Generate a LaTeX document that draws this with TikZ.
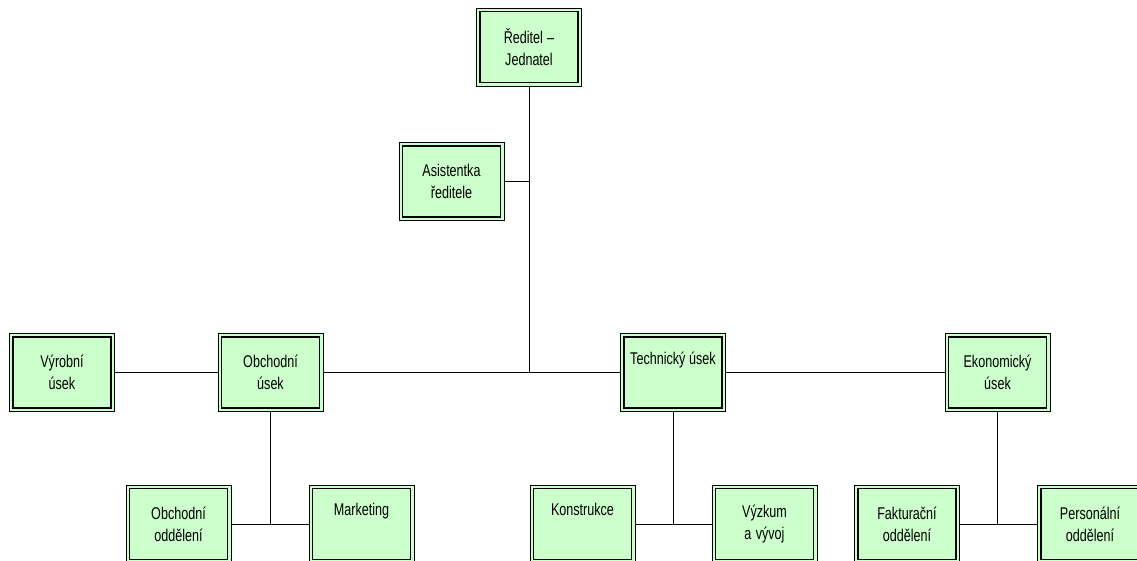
\documentclass[tikz,border=0pt]{standalone}
\usepackage{fontspec}
\setmainfont{Liberation Sans}[FakeStretch=0.74]
\definecolor{boxgreen}{HTML}{CCFFCC}
\begin{document}
\begin{tikzpicture}[x=1pt,y=-1pt,
  box/.style={draw, line width=0.7pt, fill=boxgreen, minimum width=105pt, minimum height=78pt,
    inner sep=0pt, text width=100pt, align=center, font=\fontsize{17}{22}\selectfont,
    execute at begin node={\spaceskip=3.5pt plus 1pt minus 1pt\relax},
    path picture={\draw[line width=1.6pt]
      ([xshift=3.5pt,yshift=-3.5pt]path picture bounding box.north west) rectangle
      ([xshift=-3.5pt,yshift=3.5pt]path picture bounding box.south east);}},
  conn/.style={draw, line width=1pt}]
\useasboundingbox (0,0) rectangle (1137,560);
\clip (0,0) rectangle (1137,560);
\fill[white] (0,0) rectangle (1137,560);
\node[box] (red) at (529,47) {Ředitel –\\Jednatel};
\node[box] (asist) at (451.5,181.5) {Asistentka\\ředitele};
\node[box] (vyrob) at (62,372.5) {Výrobní\\úsek};
\node[box] (obch) at (270.5,372.5) {Obchodní\\úsek};
\node[box] (tech) at (673,372.5) {Technický úsek\\\strut};
\node[box] (ekon) at (997.5,372.5) {Ekonomický\\úsek};
\node[box] (obodd) at (178.5,524) {Obchodní\\oddělení};
\node[box] (mark) at (361.5,524) {Marketing\\\strut};
\node[box] (konst) at (582.5,524) {Konstrukce\\\strut};
\node[box] (vyzk) at (764.5,524) {Výzkum\\a vývoj};
\node[box] (fakt) at (907,524) {Fakturační\\oddělení};
\node[box] (pers) at (1090,524) {Personální\\oddělení};
\coordinate (hub) at (529,372.5);
\path[conn] (red.south) -- (hub);
\path[conn] (asist.east) -- (asist.east -| hub);
\path[conn] (vyrob.east) -- (obch.west);
\path[conn] (obch.east) -- (tech.west);
\path[conn] (tech.east) -- (ekon.west);
\path[conn] (obch.south) -- (obch.south |- obodd.east);
\path[conn] (obodd.east) -- (mark.west);
\path[conn] (tech.south) -- (tech.south |- konst.east);
\path[conn] (konst.east) -- (vyzk.west);
\path[conn] (ekon.south) -- (ekon.south |- fakt.east);
\path[conn] (fakt.east) -- (pers.west);
\end{tikzpicture}
\end{document}
